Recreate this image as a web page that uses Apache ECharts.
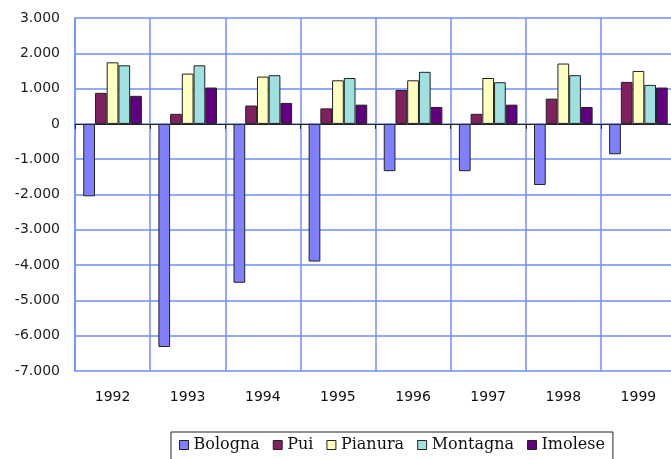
<!DOCTYPE html>
<html>
<head>
<meta charset="utf-8">
<script src="https://cdn.jsdelivr.net/npm/echarts@6/dist/echarts.min.js"></script>
<style>
  html, body { margin: 0; padding: 0; background: #fff; }
  #chart { width: 671px; height: 459px; }
</style>
</head>
<body>
<div id="chart"></div>
<script>
const years = ['1992', '1993', '1994', '1995', '1996', '1997', '1998', '1999']
const bologna = [-2050, -6320, -4500, -3900, -1340, -1340, -1730, -860]
const pui = [880, 285, 520, 440, 960, 285, 715, 1190]
const pianura = [1745, 1425, 1340, 1235, 1235, 1300, 1710, 1500]
const montagna = [1660, 1660, 1380, 1300, 1475, 1180, 1380, 1105]
const imolese = [795, 1030, 595, 545, 480, 545, 480, 1030]

const names = ['Bologna', 'Pui', 'Pianura', 'Montagna', 'Imolese']
const colors = ['#8080ff', '#802060', '#ffffc0', '#a0e0e0', '#600080']
const values = [bologna, pui, pianura, montagna, imolese]

const gridBlue = '#6f8fff'

const chart = echarts.init(document.getElementById('chart'))

// 1000 -> 1.000
const fmt = v => {
  const s = String(Math.abs(v)).replace(/\B(?=(\d{3})+(?!\d))/g, '.')
  return (v < 0 ? '-' : '') + s
}

const option = {
  animation: false,
  backgroundColor: '#fff',
  grid: {
    left: 75, top: 18, width: 601, height: 353,
    outerBoundsMode: 'none',
    containLabel: false
  },
  legend: {
    left: 171,
    top: 432,
    itemWidth: 9,
    itemHeight: 9,
    itemGap: 13,
    padding: [5, 8, 14, 8],
    borderColor: '#222',
    borderWidth: 1,
    icon: 'rect',
    itemStyle: { borderColor: '#222', borderWidth: 1 },
    textStyle: { fontFamily: 'DejaVu Serif', fontSize: 16, color: '#111' },
    data: names
  },
  xAxis: [
    {
      type: 'category',
      data: years,
      axisLine: { onZero: true, lineStyle: { color: '#222', width: 1 } },
      axisTick: { show: true, length: 5, lineStyle: { color: '#222' } },
      axisLabel: { show: false },
      splitLine: { show: false }
    },
    {
      type: 'category',
      data: years,
      position: 'bottom',
      axisLine: { show: false },
      axisTick: { show: false },
      axisLabel: { margin: 19, fontFamily: 'DejaVu Sans', fontSize: 14, color: '#111' },
      splitLine: { show: true, lineStyle: { color: gridBlue, width: 1.5 } }
    }
  ],
  yAxis: {
    type: 'value',
    min: -7000,
    max: 3000,
    interval: 1000,
    axisLine: { show: true, lineStyle: { color: gridBlue, width: 1.5 } },
    axisTick: { show: false },
    axisLabel: { margin: 15, fontFamily: 'DejaVu Sans', fontSize: 14, color: '#222', formatter: fmt },
    splitLine: { show: true, lineStyle: { color: gridBlue, width: 1.5 } }
  },
  series: names.map((n, i) => ({
    name: n,
    type: 'bar',
    xAxisIndex: 0,
    data: values[i],
    barGap: '0%',
    barCategoryGap: '22%',
    itemStyle: { color: colors[i], borderColor: '#222', borderWidth: 1 }
  }))
}

chart.setOption(option)
window.addEventListener('resize', () => chart.resize())
</script>
</body>
</html>
